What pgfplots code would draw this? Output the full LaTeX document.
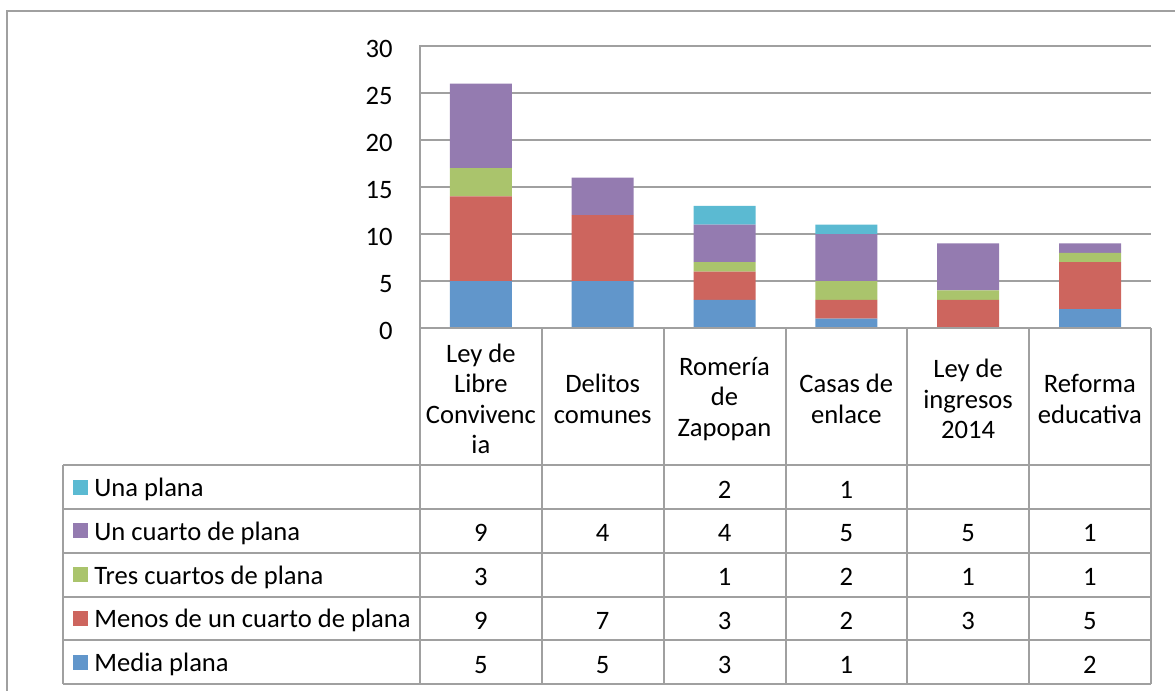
\documentclass[border=0pt]{standalone}
\usepackage{pgfplots}
\pgfplotsset{compat=1.18}
\usepackage{pgfplotstable}
\usepackage{fontspec}
\setmainfont{Carlito}

\definecolor{cblue}{RGB}{97,150,203}
\definecolor{cred}{RGB}{205,101,94}
\definecolor{cgreen}{RGB}{170,196,108}
\definecolor{cpurple}{RGB}{148,123,176}
\definecolor{ccyan}{RGB}{91,186,210}
\definecolor{linegray}{RGB}{160,160,160}

\newcommand\f{\fontsize{13.3}{15.2}\selectfont}

% columns: Media, Menos, Tres cuartos, Un cuarto, Una plana
\pgfplotstableread{
idx media menos tres cuarto una
0   5     9     3    9      0
1   5     7     0    4      0
2   3     3     1    4      2
3   1     2     2    5      1
4   0     3     1    5      0
5   2     5     1    1      0
}\datos

\begin{document}
\begin{tikzpicture}[font=\f]
\begin{axis}[
  at={(210pt,-164pt)}, anchor=south west,
  scale only axis, width=365.5pt, height=141pt,
  ybar stacked, bar width=31pt,
  xmin=-0.5, xmax=5.5, ymin=0, ymax=30,
  ytick={0,5,...,30}, xtick=\empty,
  ymajorgrids, grid style={linegray, line width=0.75pt},
  axis line style={draw=none},
  ytick style={draw=none},
  yticklabel style={font=\f, inner sep=0pt, xshift=-13.5pt, yshift=-1.5pt},
  /pgf/number format/assume math mode=true,
]
\addplot[fill=cblue, draw=none] table[x=idx, y=media] {\datos};
\addplot[fill=cred, draw=none] table[x=idx, y=menos] {\datos};
\addplot[fill=cgreen, draw=none] table[x=idx, y=tres] {\datos};
\addplot[fill=cpurple, draw=none] table[x=idx, y=cuarto] {\datos};
\addplot[fill=ccyan, draw=none] table[x=idx, y=una] {\datos};
\end{axis}

\begin{scope}[x=0.5pt, y=-0.5pt]
  \path[use as bounding box] (0,0) rectangle (1175,691);
  % outer frame (cropped)
  \draw[linegray, line width=1pt] (6.5,700) -- (6.5,10.5) -- (1180,10.5);
  % table lines
  \draw[linegray, line width=0.8pt] (420,45) -- (420,684);
  \draw[linegray, line width=0.8pt] (420,328) -- (1151,328);
  \foreach \xx in {542,664,786,907,1029,1151}
    \draw[linegray, line width=0.8pt] (\xx,328) -- (\xx,684);
  \draw[linegray, line width=0.8pt] (63,465) -- (63,684);
  \foreach \yy in {465,509,553,597,640,684}
    \draw[linegray, line width=0.8pt] (63,\yy) -- (1151,\yy);
  % category headers
  \foreach \t [count=\i from 0] in {{Ley de\\Libre\\Convivenc\\ia},{Delitos\\comunes},{Romería\\de\\Zapopan},{Casas de\\enlace},{Ley de\\ingresos\\2014},{Reforma\\educativa}} {
    \pgfmathsetmacro\cx{480.9+121.8*\i}
    \node[align=center, inner sep=0pt] at (\cx,399) {\t};
  }
  % legend keys and series names
  \foreach \c/\n [count=\r from 0] in {ccyan/Una plana, cpurple/Un cuarto de plana, cgreen/Tres cuartos de plana, cred/Menos de un cuarto de plana, cblue/Media plana} {
    \pgfmathsetmacro\cy{487+43.8*\r}
    \fill[\c] (73,\cy-7.5) rectangle (88,\cy+7.5);
    \node[anchor=west, inner sep=0pt] at (94,\cy+2.5) {\n};
  }
  % values
  \foreach \col [count=\r from 0] in {una,cuarto,tres,menos,media} {
    \foreach \i in {0,...,5} {
      \pgfplotstablegetelem{\i}{\col}\of\datos
      \ifnum\pgfplotsretval>0
        \pgfmathsetmacro\cx{480.9+121.8*\i}
        \pgfmathsetmacro\cy{487+43.8*\r}
        \node[inner sep=0pt] at (\cx,\cy+2.5) {\pgfplotsretval};
      \fi
    }
  }
\end{scope}
\end{tikzpicture}
\end{document}
